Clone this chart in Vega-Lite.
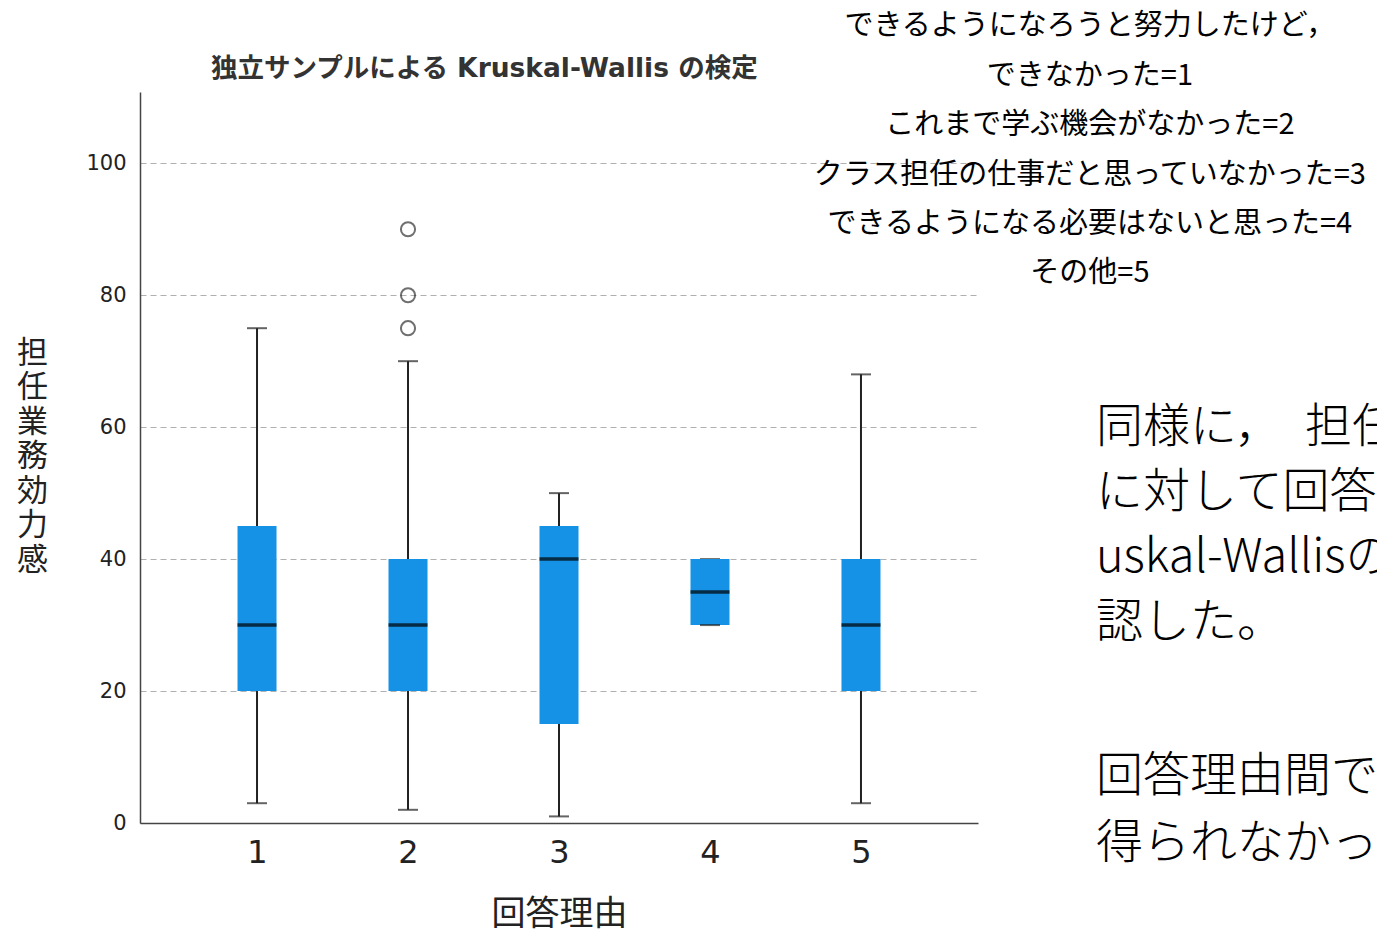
{
  "$schema": "https://vega.github.io/schema/vega-lite/v6.json",
  "width": 838,
  "height": 731,
  "autosize": {"type": "none"},
  "padding": {"left": 140, "top": 92, "right": 399, "bottom": 111},
  "background": "white",
  "config": {
    "view": {"stroke": null},
    "font": "DejaVu Sans, Noto Sans CJK JP"
  },
  "datasets": {
    "boxes": [
      {"reason": 1, "lower": 3, "q1": 20, "median": 30, "q3": 45, "upper": 75},
      {"reason": 2, "lower": 2, "q1": 20, "median": 30, "q3": 40, "upper": 70},
      {"reason": 3, "lower": 1, "q1": 15, "median": 40, "q3": 45, "upper": 50},
      {"reason": 4, "lower": 30, "q1": 30, "median": 35, "q3": 40, "upper": 40},
      {"reason": 5, "lower": 3, "q1": 20, "median": 30, "q3": 40, "upper": 68}
    ],
    "outliers": [
      {"reason": 2, "value": 75},
      {"reason": 2, "value": 80},
      {"reason": 2, "value": 90}
    ],
    "notes": [{"id": 1}]
  },
  "layer": [
    {
      "data": {"name": "boxes"},
      "mark": {"type": "rule", "color": "#222222", "strokeWidth": 2},
      "encoding": {
        "x": {
          "field": "reason", "type": "quantitative",
          "scale": {"domain": [0.225, 5.775], "nice": false, "zero": false, "padding": 0},
          "axis": {
            "title": "回答理由",
            "values": [1, 2, 3, 4, 5],
            "format": "d",
            "grid": false,
            "ticks": false,
            "domainColor": "#444444",
            "domainWidth": 1.5,
            "labelFontSize": 32,
            "labelColor": "#222222",
            "labelPadding": 14,
            "titleFontSize": 34,
            "titleFontWeight": "normal",
            "titleColor": "#222222",
            "titlePadding": 29,
            "titleFont": "Noto Sans CJK JP"
          }
        },
        "y": {
          "field": "lower", "type": "quantitative",
          "scale": {"domain": [0, 110.8], "nice": false, "padding": 0},
          "axis": {
            "title": ["担", "任", "業", "務", "効", "力", "感"],
            "values": [0, 20, 40, 60, 80, 100],
            "grid": true,
            "gridDash": [6, 4],
            "gridColor": "#b0b0b0",
            "gridWidth": 1.2,
            "ticks": false,
            "domainColor": "#444444",
            "domainWidth": 1.5,
            "labelFontSize": 21,
            "labelColor": "#222222",
            "labelPadding": 14,
            "titleAngle": 0,
            "titleAlign": "center",
            "titleBaseline": "middle",
            "titleX": -108,
            "titleY": 261,
            "titleFontSize": 31,
            "titleLineHeight": 34.5,
            "titleFontWeight": "normal",
            "titleColor": "#222222",
            "titleFont": "Noto Sans CJK JP"
          }
        },
        "y2": {"field": "upper"}
      }
    },
    {
      "data": {"name": "boxes"},
      "mark": {"type": "tick", "orient": "horizontal", "color": "#222222", "size": 20, "thickness": 2},
      "encoding": {
        "x": {"field": "reason", "type": "quantitative"},
        "y": {"field": "upper", "type": "quantitative"}
      }
    },
    {
      "data": {"name": "boxes"},
      "mark": {"type": "bar", "color": "#1592e6", "size": 39},
      "encoding": {
        "x": {"field": "reason", "type": "quantitative"},
        "y": {"field": "q1", "type": "quantitative"},
        "y2": {"field": "q3"}
      }
    },
    {
      "data": {"name": "boxes"},
      "mark": {"type": "tick", "orient": "horizontal", "color": "#222222", "size": 20, "thickness": 2},
      "encoding": {
        "x": {"field": "reason", "type": "quantitative"},
        "y": {"field": "lower", "type": "quantitative"}
      }
    },
    {
      "data": {"name": "boxes"},
      "mark": {"type": "tick", "orient": "horizontal", "color": "#000000", "size": 39, "thickness": 3.5},
      "encoding": {
        "x": {"field": "reason", "type": "quantitative"},
        "y": {"field": "median", "type": "quantitative"}
      }
    },
    {
      "data": {"name": "outliers"},
      "mark": {"type": "point", "shape": "circle", "filled": false, "color": "#333333", "size": 200, "strokeWidth": 2},
      "encoding": {
        "x": {"field": "reason", "type": "quantitative"},
        "y": {"field": "value", "type": "quantitative"}
      }
    },
    {
      "data": {"name": "notes"},
      "mark": {
        "type": "text",
        "text": "独立サンプルによる Kruskal-Wallis の検定",
        "font": "DejaVu Sans, Noto Sans CJK JP",
        "fontSize": 26.5,
        "fontWeight": "bold",
        "align": "left",
        "baseline": "middle",
        "color": "#333333"
      },
      "encoding": {
        "x": {"datum": 0.695, "type": "quantitative"},
        "y": {"datum": 114.3, "type": "quantitative"}
      }
    },
    {
      "data": {"name": "notes"},
      "mark": {
        "type": "text",
        "text": ["できるようになろうと努力したけど，", "できなかった=1", "これまで学ぶ機会がなかった=2", "クラス担任の仕事だと思っていなかった=3", "できるようになる必要はないと思った=4", "その他=5"],
        "font": "Noto Sans CJK JP",
        "fontSize": 29,
        "lineHeight": 49.4,
        "align": "center",
        "baseline": "middle",
        "color": "#000000"
      },
      "encoding": {
        "x": {"datum": 6.516, "type": "quantitative"},
        "y": {"datum": 120.73, "type": "quantitative"}
      }
    },
    {
      "data": {"name": "notes"},
      "mark": {
        "type": "text",
        "text": ["同様に，\u2002担任業務効力感の得点", "に対して回答理由を要因としたKr", "uskal-Wallisの検定を行い，差を確", "認した。"],
        "font": "Noto Sans CJK JP",
        "fontSize": 47,
        "fontWeight": 300,
        "lineHeight": 65,
        "align": "left",
        "baseline": "middle",
        "color": "#000000"
      },
      "encoding": {
        "x": {"datum": 6.556, "type": "quantitative"},
        "y": {"datum": 59.87, "type": "quantitative"}
      }
    },
    {
      "data": {"name": "notes"},
      "mark": {
        "type": "text",
        "text": ["回答理由間で有意な差は", "得られなかった。"],
        "font": "Noto Sans CJK JP",
        "fontSize": 47,
        "fontWeight": 300,
        "lineHeight": 67,
        "align": "left",
        "baseline": "middle",
        "color": "#000000"
      },
      "encoding": {
        "x": {"datum": 6.556, "type": "quantitative"},
        "y": {"datum": 6.97, "type": "quantitative"}
      }
    }
  ]
}
